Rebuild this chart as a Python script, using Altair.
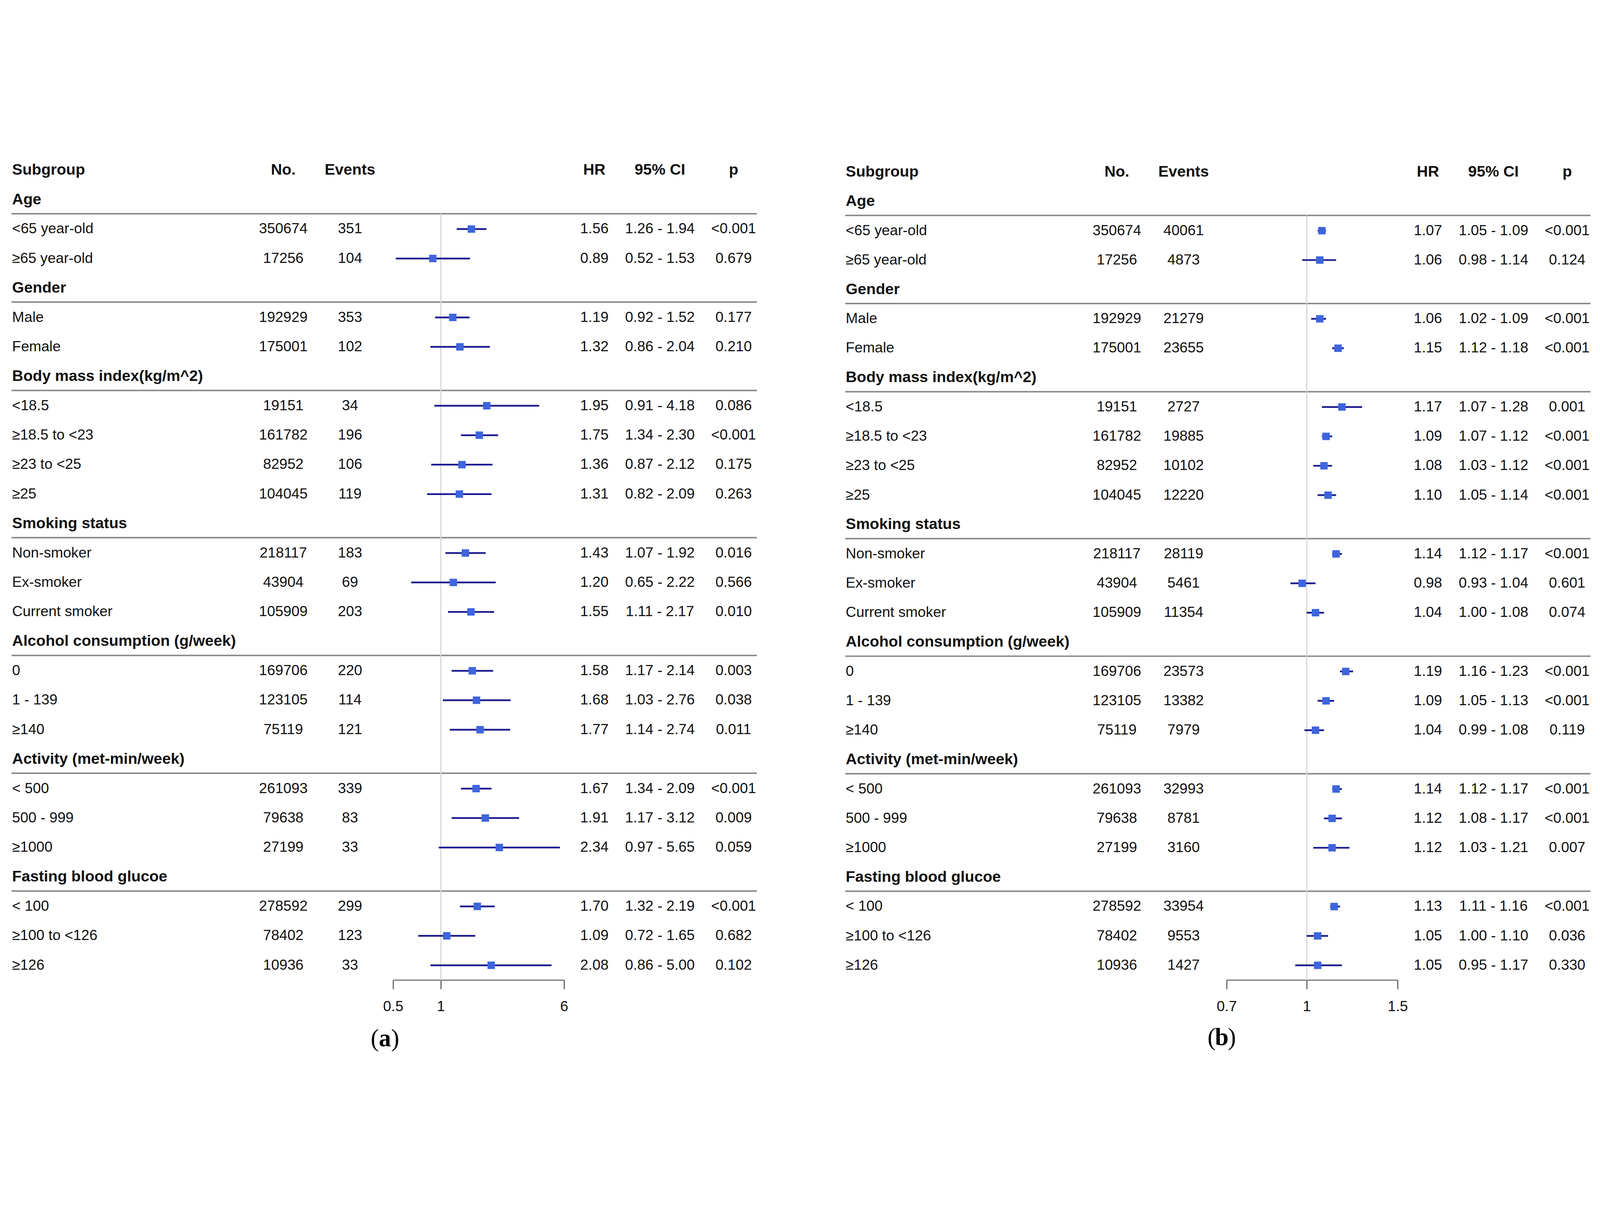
import altair as alt
import pandas as pd

# ---------------- data ----------------
groups = ["Age", "Gender", "Body mass index(kg/m^2)", "Smoking status",
          "Alcohol consumption (g/week)", "Activity (met-min/week)", "Fasting blood glucoe"]
group_sizes = [2, 2, 4, 3, 3, 3, 3]
subgroups = ["<65 year-old", "≥65 year-old",
             "Male", "Female",
             "<18.5", "≥18.5 to <23", "≥23 to <25", "≥25",
             "Non-smoker", "Ex-smoker", "Current smoker",
             "0", "1 - 139", "≥140",
             "< 500", "500 - 999", "≥1000",
             "< 100", "≥100 to <126", "≥126"]
no_counts = [350674, 17256, 192929, 175001, 19151, 161782, 82952, 104045,
             218117, 43904, 105909, 169706, 123105, 75119, 261093, 79638, 27199,
             278592, 78402, 10936]

events_a = [351, 104, 353, 102, 34, 196, 106, 119, 183, 69, 203, 220, 114, 121, 339, 83, 33, 299, 123, 33]
hr_a = [1.56, 0.89, 1.19, 1.32, 1.95, 1.75, 1.36, 1.31, 1.43, 1.20, 1.55, 1.58, 1.68, 1.77, 1.67, 1.91, 2.34, 1.70, 1.09, 2.08]
lo_a = [1.26, 0.52, 0.92, 0.86, 0.91, 1.34, 0.87, 0.82, 1.07, 0.65, 1.11, 1.17, 1.03, 1.14, 1.34, 1.17, 0.97, 1.32, 0.72, 0.86]
hi_a = [1.94, 1.53, 1.52, 2.04, 4.18, 2.30, 2.12, 2.09, 1.92, 2.22, 2.17, 2.14, 2.76, 2.74, 2.09, 3.12, 5.65, 2.19, 1.65, 5.00]
p_a = ["<0.001", "0.679", "0.177", "0.210", "0.086", "<0.001", "0.175", "0.263", "0.016", "0.566",
       "0.010", "0.003", "0.038", "0.011", "<0.001", "0.009", "0.059", "<0.001", "0.682", "0.102"]

events_b = [40061, 4873, 21279, 23655, 2727, 19885, 10102, 12220, 28119, 5461, 11354, 23573, 13382, 7979,
            32993, 8781, 3160, 33954, 9553, 1427]
hr_b = [1.07, 1.06, 1.06, 1.15, 1.17, 1.09, 1.08, 1.10, 1.14, 0.98, 1.04, 1.19, 1.09, 1.04, 1.14, 1.12, 1.12, 1.13, 1.05, 1.05]
lo_b = [1.05, 0.98, 1.02, 1.12, 1.07, 1.07, 1.03, 1.05, 1.12, 0.93, 1.00, 1.16, 1.05, 0.99, 1.12, 1.08, 1.03, 1.11, 1.00, 0.95]
hi_b = [1.09, 1.14, 1.09, 1.18, 1.28, 1.12, 1.12, 1.14, 1.17, 1.04, 1.08, 1.23, 1.13, 1.08, 1.17, 1.17, 1.21, 1.16, 1.10, 1.17]
p_b = ["<0.001", "0.124", "<0.001", "<0.001", "0.001", "<0.001", "<0.001", "<0.001", "<0.001", "0.601",
       "0.074", "<0.001", "<0.001", "0.119", "<0.001", "<0.001", "0.007", "<0.001", "0.036", "0.330"]

header_labels = ["Subgroup", "No.", "Events", "HR", "95% CI", "p"]
ticks_a = [0.5, 1, 6]
ticks_b = [0.7, 1, 1.5]
tag_a = ["(", "a", ")"]
tag_b = ["(", "b", ")"]

# ---------------- style / layout ----------------
FONT = "Liberation Sans"
SERIF = "Liberation Serif"
TXT = "#111111"
FS = 50
FS_B = 53
COLS = [31, 962, 1191, 2030, 2255, 2508]
ALIGNS = ["left", "center", "center", "center", "center", "center"]
RULE_X0, RULE_X1 = 29, 2588
FOREST = [1339, 1926]
H = 2829


def build_rows(events, hr, lo, hi, p):
    grows, srows = [], []
    i, k = 1, 0
    for g, n in zip(groups, group_sizes):
        grows.append({"idx": i, "label": g, "sep": i + 0.48})
        i += 1
        for _ in range(n):
            srows.append({"idx": i, "label": subgroups[k], "no": str(no_counts[k]),
                          "ev": str(events[k]), "hr": hr[k], "lo": lo[k], "hi": hi[k],
                          "hr_t": f"{hr[k]:.2f}", "ci_t": f"{lo[k]:.2f} - {hi[k]:.2f}",
                          "p": p[k]})
            i += 1
            k += 1
    return pd.DataFrame(grows), pd.DataFrame(srows), i - 1


def panel(events, hr, lo, hi, p, ticks, yrange, tag, tag_x, tag_y, width):
    gdf, sdf, last = build_rows(events, hr, lo, hi, p)
    ys = alt.Scale(domain=[0, last + 0.5], range=yrange, nice=False, zero=False)
    xs = alt.Scale(type="log", domain=[ticks[0], ticks[-1]], range=FOREST, nice=False)
    xaxis = alt.Axis(values=ticks, title=None, grid=False, format="~g",
                     labelFont=FONT, labelFontSize=50, labelColor=TXT,
                     labelFlush=False, labelOverlap=False, labelBaseline="middle",
                     labelPadding=60, tickSize=31, tickWidth=3, tickColor="#3a3a3a",
                     domainColor="#777777", domainWidth=4)

    def Y(f):
        return alt.Y(f, type="quantitative", scale=ys, axis=None)

    def X(f):
        return alt.X(f, type="quantitative", scale=xs, axis=xaxis)

    layers = []
    layers.append(alt.Chart(gdf).mark_rule(color="#868686", strokeWidth=5).encode(
        x=alt.value(RULE_X0), x2=alt.value(RULE_X1), y=Y("sep")))
    refdf = pd.DataFrame({"v": [1.0], "y1": [1.48], "y2": [last + 0.5]})
    layers.append(alt.Chart(refdf).mark_rule(color="#d6d6d6", strokeWidth=4).encode(
        x=X("v"), y=Y("y1"), y2=alt.Y2("y2")))

    # header row
    for lab, pos, al in zip(header_labels, COLS, ALIGNS):
        hdf = pd.DataFrame({"t": [lab], "idx": [0]})
        layers.append(alt.Chart(hdf).mark_text(align=al, baseline="middle", font=FONT,
                                               fontSize=FS_B, fontWeight="bold", color=TXT).encode(
            x=alt.value(pos), y=Y("idx"), text="t:N"))
    # group titles
    layers.append(alt.Chart(gdf).mark_text(align="left", baseline="middle", font=FONT,
                                           fontSize=FS_B, fontWeight="bold", color=TXT).encode(
        x=alt.value(COLS[0]), y=Y("idx"), text="label:N"))
    # subgroup rows
    for field, pos, al in zip(["label", "no", "ev", "hr_t", "ci_t", "p"], COLS, ALIGNS):
        layers.append(alt.Chart(sdf).mark_text(align=al, baseline="middle", font=FONT,
                                               fontSize=FS, color=TXT).encode(
            x=alt.value(pos), y=Y("idx"), text=f"{field}:N"))
    # CI lines and squares
    layers.append(alt.Chart(sdf).mark_rule(color="#1b1b8f", strokeWidth=6).encode(
        x=X("lo"), x2=alt.X2("hi"), y=Y("idx")))
    layers.append(alt.Chart(sdf).mark_square(size=650, color="#3e64de", opacity=1,
                                             filled=True).encode(
        x=X("hr"), y=Y("idx")))
    # panel tag "(a)" / "(b)"
    tdf = [pd.DataFrame({"t": [s]}) for s in tag]
    layers.append(alt.Chart(tdf[0]).mark_text(align="right", baseline="middle", font=SERIF,
                                              fontSize=84, color="#000000").encode(
        x=alt.value(tag_x - 21), y=alt.value(tag_y), text="t:N"))
    layers.append(alt.Chart(tdf[1]).mark_text(align="center", baseline="middle", font=SERIF,
                                              fontSize=84, fontWeight="bold", color="#000000").encode(
        x=alt.value(tag_x), y=alt.value(tag_y), text="t:N"))
    layers.append(alt.Chart(tdf[2]).mark_text(align="left", baseline="middle", font=SERIF,
                                              fontSize=84, color="#000000").encode(
        x=alt.value(tag_x + 21), y=alt.value(tag_y), text="t:N"))

    return alt.layer(*layers).properties(width=width, height=H)


pa = panel(events_a, hr_a, lo_a, hi_a, p_a, ticks_a, [49, H], tag_a, 1311, 3032, 2862)
pb = panel(events_b, hr_b, lo_b, hi_b, p_b, ticks_b, [55, H], tag_b, 1322, 3028, 2610)

chart = alt.hconcat(pa, pb, spacing=0).properties(padding=0).configure_view(strokeWidth=0)

chart.save("out.html", embed_options={"renderer": "svg", "actions": False})
